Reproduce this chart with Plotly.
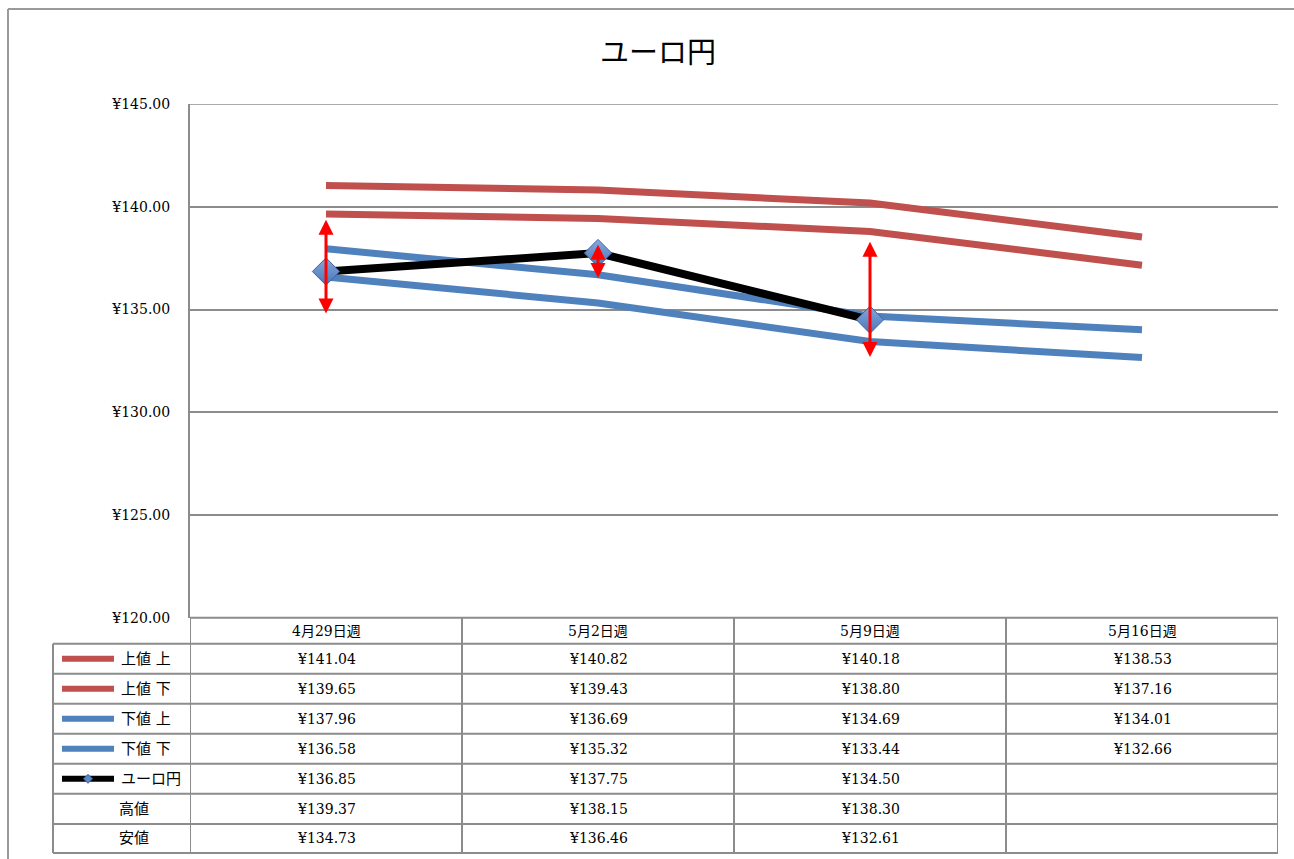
import plotly.graph_objects as go

# ---- data ----
categories = ["4月29日週", "5月2日週", "5月9日週", "5月16日週"]
upper_hi = [141.04, 140.82, 140.18, 138.53]
upper_lo = [139.65, 139.43, 138.80, 137.16]
lower_hi = [137.96, 136.69, 134.69, 134.01]
lower_lo = [136.58, 135.32, 133.44, 132.66]
eurjpy = [136.85, 137.75, 134.50, None]
high = [139.37, 138.15, 138.30, None]
low = [134.73, 136.46, 132.61, None]
row_labels = ["上値 上", "上値 下", "下値 上", "下値 下", "ユーロ円", "高値", "安値"]
y_ticks = [120, 125, 130, 135, 140, 145]

W = 1294
H_FIG = 868          # figure height
OFF, SCALE = 8, 0.9805   # observed page -> picture mapping (vertical)
RED = "#C0504D"
BLUE = "#4F81BD"
GRID = "#8c8c8c"
SERIF = "'DejaVu Serif', 'Noto Sans CJK JP', serif"


def px(x):
    return x / W


def py(y):
    return 1 - ((y - OFF) / SCALE) / H_FIG


xs = list(range(len(categories)))

fig = go.Figure()
for vals, col in [(upper_hi, RED), (upper_lo, RED), (lower_hi, BLUE), (lower_lo, BLUE)]:
    fig.add_trace(go.Scatter(x=xs, y=vals, mode="lines",
                             line=dict(color=col, width=7), showlegend=False,
                             hoverinfo="skip"))
fig.add_trace(go.Scatter(x=xs, y=eurjpy, mode="lines+markers",
                         line=dict(color="black", width=8),
                         marker=dict(symbol="diamond", size=21, color="#86a8dc",
                                     gradient=dict(type="vertical", color="#4a76b8"),
                                     line=dict(color="#3d64a0", width=1)),
                         showlegend=False, connectgaps=False))

annotations = []
# high-low arrows
for i, (h, l) in enumerate(zip(high, low)):
    if h is None or l is None:
        continue
    annotations.append(dict(x=i, y=h, ax=i, ay=l, xref="x", yref="y", axref="x", ayref="y",
                            text="", showarrow=True, arrowside="end+start",
                            arrowhead=2, startarrowhead=2, arrowsize=1, startarrowsize=1,
                            arrowwidth=3, arrowcolor="#FF0000", standoff=0, startstandoff=0))

# table geometry (pixels)
header_top, header_bot = 617, 643
row_edges = [643, 673, 703, 733, 763, 793, 823, 852]
tab_left = 53
plot_left, plot_right, plot_top = 190, 1278, 104

shapes = []
line_style = dict(color=GRID, width=2)
# outer chart border (top & left)
shapes.append(dict(type="line", xref="paper", yref="paper", x0=px(8), x1=1, y0=py(9), y1=py(9),
                   line=dict(color="#9a9a9a", width=2)))
shapes.append(dict(type="line", xref="paper", yref="paper", x0=px(8), x1=px(8), y0=py(9), y1=0,
                   line=dict(color="#9a9a9a", width=2)))
# top plot border at max tick
shapes.append(dict(type="line", xref="x", yref="y", x0=-0.5, x1=len(categories) - 0.5,
                   y0=y_ticks[-1], y1=y_ticks[-1], line=dict(color=GRID, width=1.5)))
# header top line
shapes.append(dict(type="line", xref="x", yref="paper", x0=-0.5, x1=len(categories) - 0.5,
                   y0=py(header_top), y1=py(header_top), line=line_style))
# row lines
for e in row_edges:
    shapes.append(dict(type="line", xref="paper", yref="paper", x0=px(tab_left), x1=px(plot_right),
                       y0=py(e), y1=py(e), line=line_style))
# column separators
for i in range(len(categories) + 1):
    shapes.append(dict(type="line", xref="x", yref="paper", x0=i - 0.5, x1=i - 0.5,
                       y0=py(header_top), y1=py(row_edges[-1]), line=line_style))
shapes.append(dict(type="line", xref="paper", yref="paper", x0=px(tab_left), x1=px(tab_left),
                   y0=py(row_edges[0]), y1=py(row_edges[-1]), line=line_style))

TXT = dict(showarrow=False, yanchor="middle", valign="middle")

# header labels
for i, c in enumerate(categories):
    annotations.append(dict(x=i, y=py((header_top + header_bot) / 2), xref="x", yref="paper",
                            text=c, xanchor="center",
                            font=dict(family=SERIF, size=14, color="black"), **TXT))

# rows
table_rows = [upper_hi, upper_lo, lower_hi, lower_lo, eurjpy, high, low]
key_colors = [RED, RED, BLUE, BLUE, "black", None, None]
for r, (lab, vals, kc) in enumerate(zip(row_labels, table_rows, key_colors)):
    yc = (row_edges[r] + row_edges[r + 1]) / 2
    for i, v in enumerate(vals):
        if v is None:
            continue
        annotations.append(dict(x=i, y=py(yc), xref="x", yref="paper", text=f"¥{v:.2f}",
                                xanchor="center",
                                font=dict(family=SERIF, size=14, color="black"), **TXT))
    if kc is not None:
        shapes.append(dict(type="line", xref="paper", yref="paper", x0=px(62), x1=px(114),
                           y0=py(yc), y1=py(yc), line=dict(color=kc, width=6)))
        if r == 4:
            cx, cy, d = 88, yc, 4.5
            path = (f"M {px(cx)},{py(cy - d)} L {px(cx + d)},{py(cy)} "
                    f"L {px(cx)},{py(cy + d)} L {px(cx - d)},{py(cy)} Z")
            shapes.append(dict(type="path", xref="paper", yref="paper", path=path,
                               fillcolor="#5b87c8", line=dict(color="#3d64a0", width=1)))
        annotations.append(dict(x=px(119), y=py(yc), xref="paper", yref="paper", text=lab,
                                xanchor="left",
                                font=dict(family=SERIF, size=15, color="black"), **TXT))
    else:
        annotations.append(dict(x=px(134), y=py(yc), xref="paper", yref="paper", text=lab,
                                xanchor="center",
                                font=dict(family=SERIF, size=15, color="black"), **TXT))

# title
annotations.append(dict(x=px(658), y=py(50), xref="paper", yref="paper", text="ユーロ円",
                        xanchor="center", font=dict(family="'Noto Sans CJK JP'", size=29,
                                                    color="black"), **TXT))

fig.update_layout(
    width=W, height=H_FIG,
    margin=dict(l=0, r=0, t=0, b=0, pad=0),
    paper_bgcolor="white", plot_bgcolor="white",
    xaxis=dict(domain=[px(plot_left), px(plot_right)], range=[-0.5, len(categories) - 0.5],
               showticklabels=False, showgrid=False, zeroline=False, showline=False, fixedrange=True),
    yaxis=dict(domain=[py(header_top), py(plot_top)], range=[y_ticks[0], y_ticks[-1]],
               tickvals=y_ticks, ticktext=[f"¥{t:.2f}" for t in y_ticks],
               showgrid=True, gridcolor=GRID, gridwidth=1.5, zeroline=False,
               showline=True, linecolor=GRID, linewidth=2, ticks="", ticklabelstandoff=15,
               tickfont=dict(family=SERIF, size=14, color="black"), fixedrange=True),
    shapes=shapes,
    annotations=annotations,
    showlegend=False,
)

fig.write_html("out.html")
